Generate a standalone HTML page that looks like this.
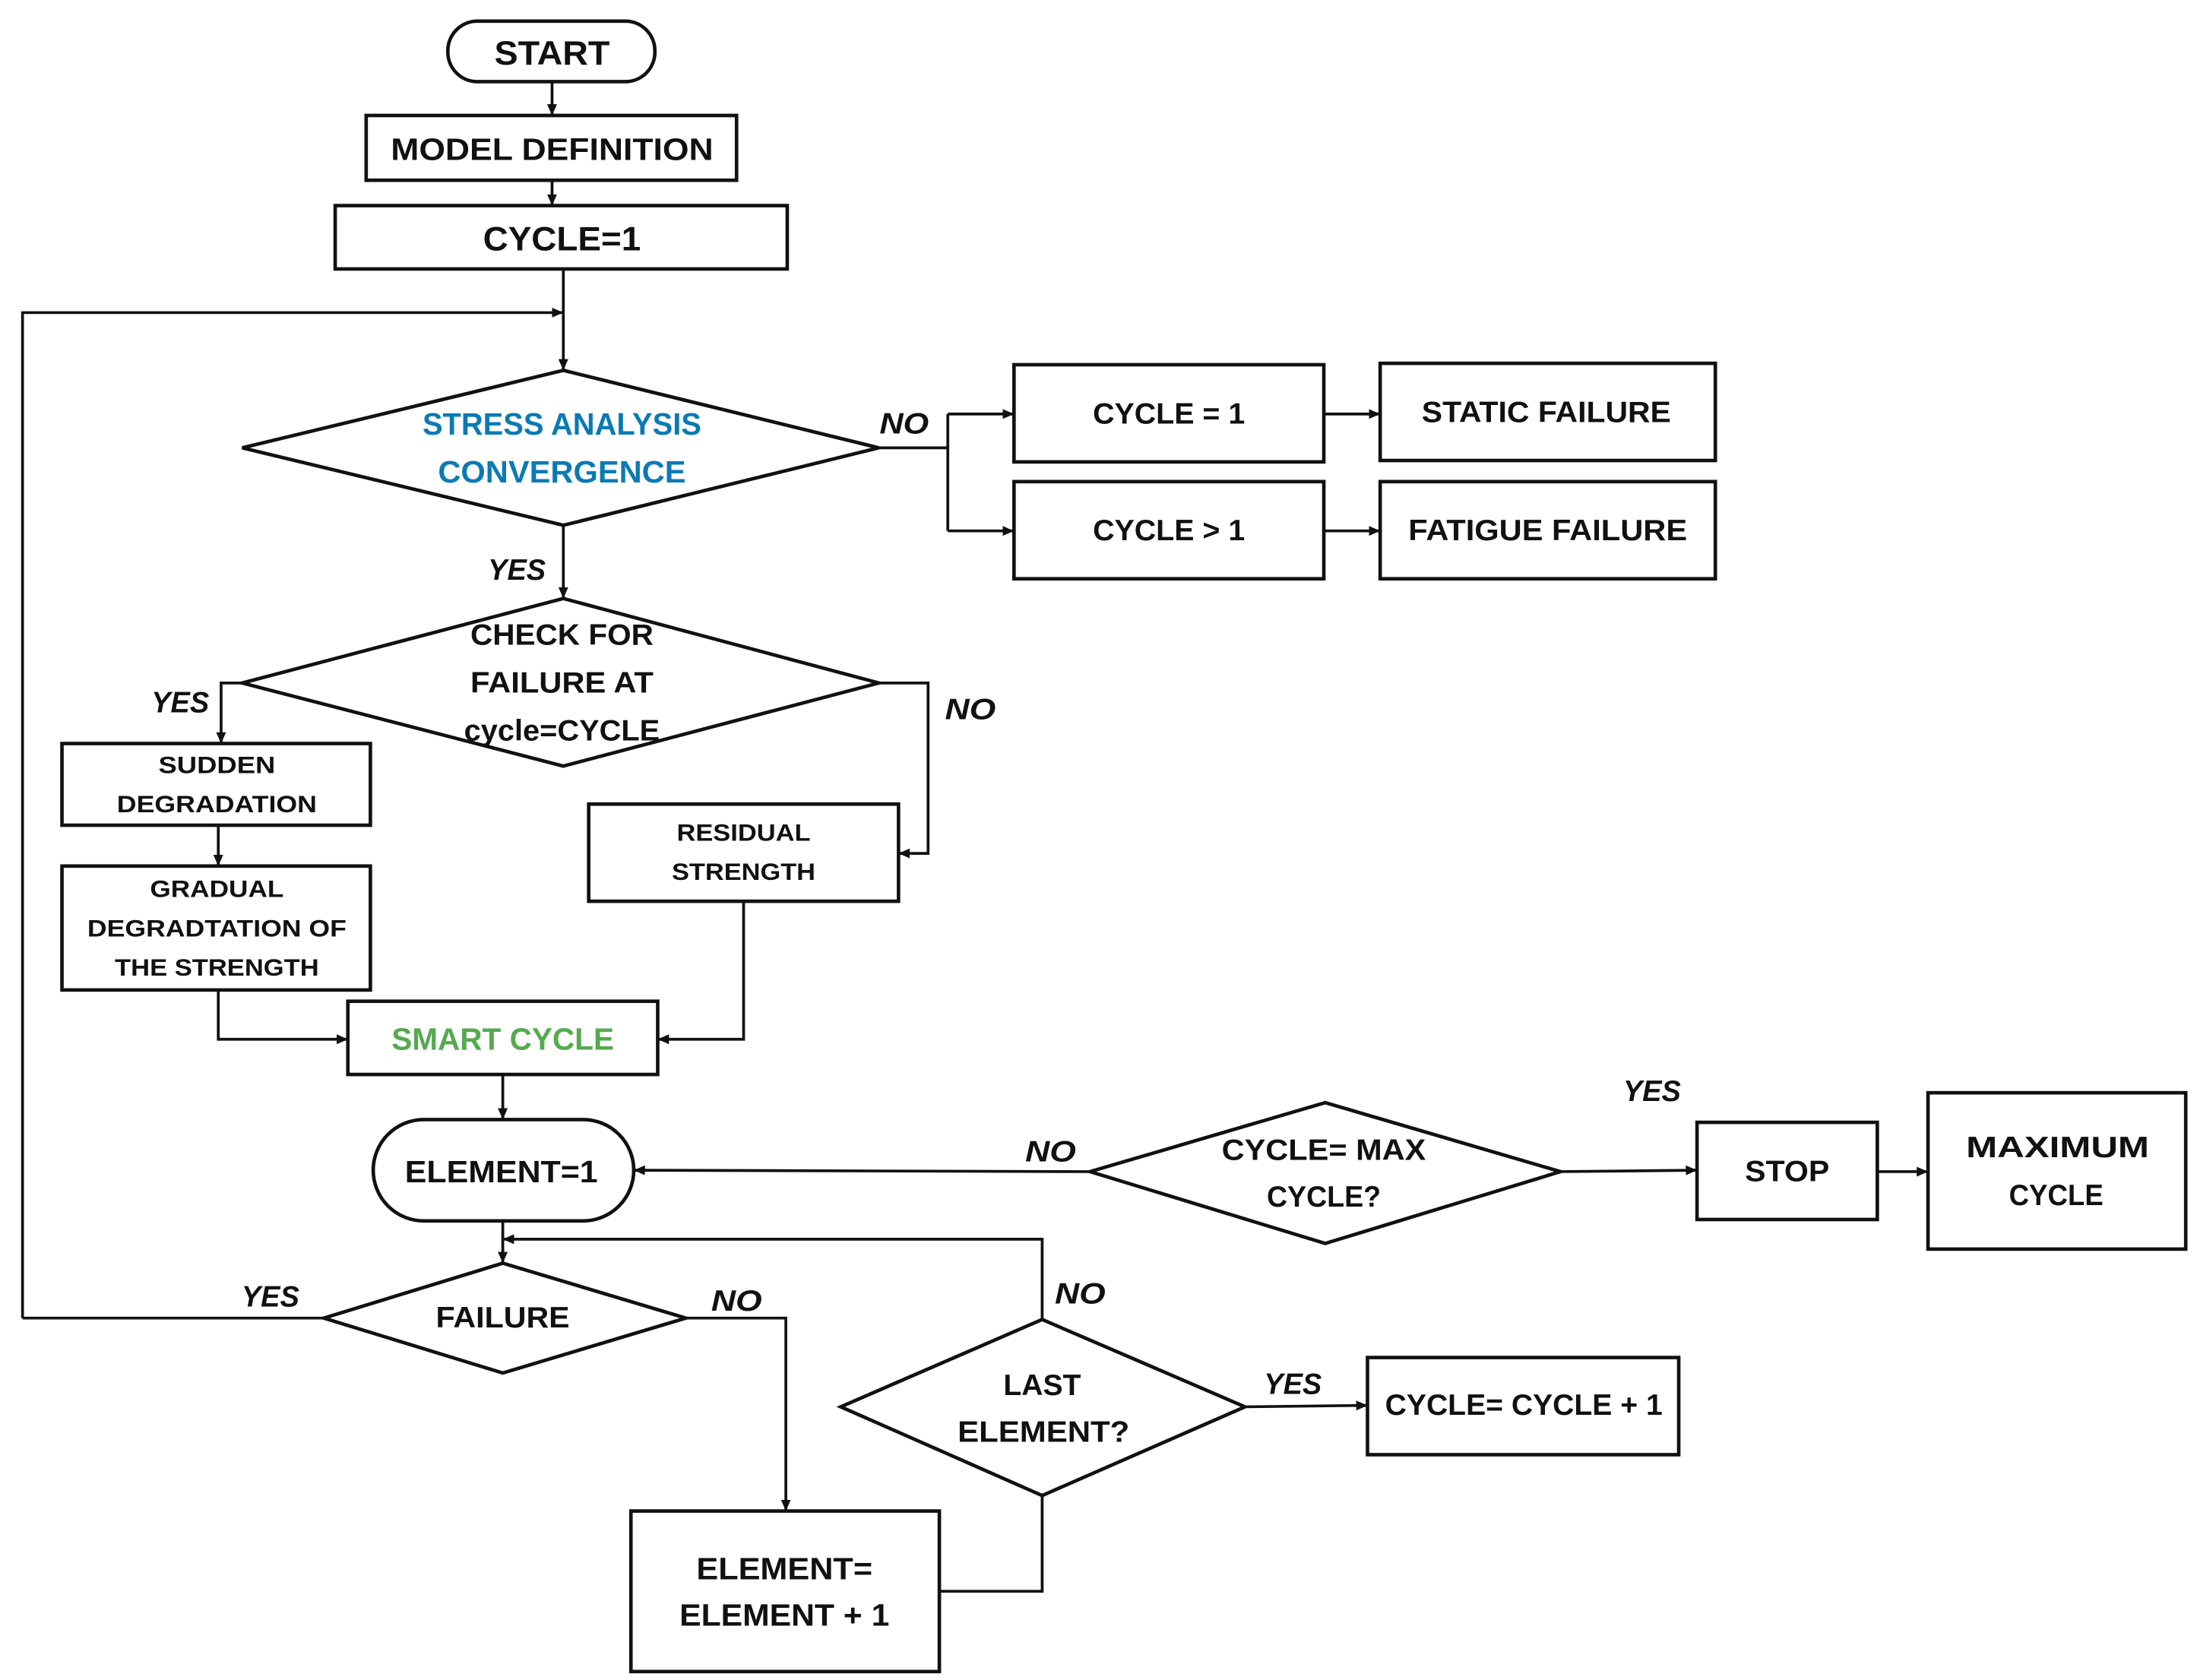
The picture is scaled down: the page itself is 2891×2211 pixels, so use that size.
<!DOCTYPE html>
<html><head><meta charset="utf-8"><style>
html,body{margin:0;padding:0;background:#fff;}
svg{display:block;}
text{font-family:"Liberation Sans",sans-serif;font-weight:bold;text-anchor:middle;dominant-baseline:central;fill:#111;}
.i{font-style:italic;}
</style></head><body>
<svg width="2891" height="2211" viewBox="0 0 1560 1193" preserveAspectRatio="none" xmlns="http://www.w3.org/2000/svg">
<defs><marker id="a" markerWidth="8" markerHeight="8" refX="7" refY="4" orient="auto" markerUnits="userSpaceOnUse"><path d="M0,0.5 L8,4 L0,7.5 z" fill="#111"/></marker></defs>
<g fill="none" stroke="#111" stroke-width="2.5">
<rect x="318" y="15" width="147" height="43" rx="21"/>
<rect x="260" y="82" width="263" height="46"/>
<rect x="238" y="146" width="321" height="45"/>
<polygon points="172,318 400,263 624,318 400,373"/>
<rect x="720" y="259" width="220" height="69"/>
<rect x="720" y="342" width="220" height="69"/>
<rect x="980" y="258" width="238" height="69"/>
<rect x="980" y="342" width="238" height="69"/>
<polygon points="172,485 400,425 624,485 400,544"/>
<rect x="44" y="528" width="219" height="58"/>
<rect x="44" y="615" width="219" height="88"/>
<rect x="418" y="571" width="220" height="69"/>
<rect x="247" y="711" width="220" height="52"/>
<rect x="265" y="795" width="185" height="72" rx="36"/>
<polygon points="230,936 357,897 487,936 357,975"/>
<rect x="448" y="1073" width="219" height="114"/>
<polygon points="597,999 740,937 884,999 740,1062"/>
<rect x="971" y="964" width="221" height="69"/>
<polygon points="774,832 941,783 1108,832 941,883"/>
<rect x="1205" y="797" width="128" height="69"/>
<rect x="1369" y="776" width="183" height="111"/>
</g>
<g fill="none" stroke="#111" stroke-width="2">
<path d="M392,58 V81" marker-end="url(#a)"/>
<path d="M392,128 V145" marker-end="url(#a)"/>
<path d="M400,191 V262" marker-end="url(#a)"/>
<path d="M16,936 V222 H399" marker-end="url(#a)"/>
<path d="M230,936 H16"/>
<path d="M624,318 H673 M673,294 V377"/>
<path d="M673,294 H719" marker-end="url(#a)"/>
<path d="M673,377 H719" marker-end="url(#a)"/>
<path d="M940,294 H979" marker-end="url(#a)"/>
<path d="M940,377 H979" marker-end="url(#a)"/>
<path d="M400,373 V424" marker-end="url(#a)"/>
<path d="M172,485 H157 V527" marker-end="url(#a)"/>
<path d="M624,485 H659 V606 H639" marker-end="url(#a)"/>
<path d="M155,586 V614" marker-end="url(#a)"/>
<path d="M155,703 V738 H246" marker-end="url(#a)"/>
<path d="M528,640 V738 H468" marker-end="url(#a)"/>
<path d="M357,763 V794" marker-end="url(#a)"/>
<path d="M357,867 V896" marker-end="url(#a)"/>
<path d="M487,936 H558 V1072" marker-end="url(#a)"/>
<path d="M667,1130 H740 V1062"/>
<path d="M740,937 V880 H358" marker-end="url(#a)"/>
<path d="M884,999 L970,998" marker-end="url(#a)"/>
<path d="M774,832 L451,831" marker-end="url(#a)"/>
<path d="M1108,832 L1204,831" marker-end="url(#a)"/>
<path d="M1333,832 H1368" marker-end="url(#a)"/>
</g>
<text x="392" y="38" font-size="24" textLength="82" lengthAdjust="spacingAndGlyphs">START</text>
<text x="392" y="106" font-size="22" textLength="229" lengthAdjust="spacingAndGlyphs">MODEL DEFINITION</text>
<text x="399" y="170" font-size="24" textLength="112" lengthAdjust="spacingAndGlyphs">CYCLE=1</text>
<text x="399" y="301" font-size="22" textLength="198" lengthAdjust="spacingAndGlyphs" style="fill:#0a7ab5">STRESS ANALYSIS</text>
<text x="399" y="335" font-size="22" textLength="176" lengthAdjust="spacingAndGlyphs" style="fill:#0a7ab5">CONVERGENCE</text>
<text class="i" x="642" y="301" font-size="21" textLength="35" lengthAdjust="spacingAndGlyphs">NO</text>
<text x="830" y="294" font-size="21" textLength="108" lengthAdjust="spacingAndGlyphs">CYCLE = 1</text>
<text x="830" y="377" font-size="21" textLength="108" lengthAdjust="spacingAndGlyphs">CYCLE &gt; 1</text>
<text x="1098" y="293" font-size="21" textLength="177" lengthAdjust="spacingAndGlyphs">STATIC FAILURE</text>
<text x="1099" y="377" font-size="21" textLength="198" lengthAdjust="spacingAndGlyphs">FATIGUE FAILURE</text>
<text class="i" x="367" y="405" font-size="21" textLength="41" lengthAdjust="spacingAndGlyphs">YES</text>
<text x="399" y="451" font-size="21" textLength="130" lengthAdjust="spacingAndGlyphs">CHECK FOR</text>
<text x="399" y="485" font-size="21" textLength="130" lengthAdjust="spacingAndGlyphs">FAILURE AT</text>
<text x="399" y="519" font-size="21" textLength="139" lengthAdjust="spacingAndGlyphs">cycle=CYCLE</text>
<text class="i" x="128" y="499" font-size="21" textLength="41" lengthAdjust="spacingAndGlyphs">YES</text>
<text class="i" x="689" y="504" font-size="21" textLength="36" lengthAdjust="spacingAndGlyphs">NO</text>
<text x="154" y="543" font-size="17" textLength="83" lengthAdjust="spacingAndGlyphs">SUDDEN</text>
<text x="154" y="571" font-size="17" textLength="142" lengthAdjust="spacingAndGlyphs">DEGRADATION</text>
<text x="154" y="631" font-size="17" textLength="95" lengthAdjust="spacingAndGlyphs">GRADUAL</text>
<text x="154" y="659" font-size="17" textLength="184" lengthAdjust="spacingAndGlyphs">DEGRADTATION OF</text>
<text x="154" y="687" font-size="17" textLength="145" lengthAdjust="spacingAndGlyphs">THE STRENGTH</text>
<text x="528" y="591" font-size="17" textLength="95" lengthAdjust="spacingAndGlyphs">RESIDUAL</text>
<text x="528" y="619" font-size="17" textLength="102" lengthAdjust="spacingAndGlyphs">STRENGTH</text>
<text x="357" y="738" font-size="22" textLength="158" lengthAdjust="spacingAndGlyphs" style="fill:#55aa4f">SMART CYCLE</text>
<text x="356" y="832" font-size="22" textLength="137" lengthAdjust="spacingAndGlyphs">ELEMENT=1</text>
<text x="357" y="936" font-size="21" textLength="95" lengthAdjust="spacingAndGlyphs">FAILURE</text>
<text class="i" x="192" y="921" font-size="21" textLength="41" lengthAdjust="spacingAndGlyphs">YES</text>
<text class="i" x="523" y="924" font-size="21" textLength="36" lengthAdjust="spacingAndGlyphs">NO</text>
<text x="557" y="1114" font-size="22" textLength="125" lengthAdjust="spacingAndGlyphs">ELEMENT=</text>
<text x="557" y="1147" font-size="22" textLength="149" lengthAdjust="spacingAndGlyphs">ELEMENT + 1</text>
<text x="740" y="984" font-size="21" textLength="55" lengthAdjust="spacingAndGlyphs">LAST</text>
<text x="741" y="1017" font-size="21" textLength="122" lengthAdjust="spacingAndGlyphs">ELEMENT?</text>
<text class="i" x="767" y="919" font-size="21" textLength="36" lengthAdjust="spacingAndGlyphs">NO</text>
<text class="i" x="918" y="983" font-size="21" textLength="41" lengthAdjust="spacingAndGlyphs">YES</text>
<text x="1082" y="998" font-size="21" textLength="197" lengthAdjust="spacingAndGlyphs">CYCLE= CYCLE + 1</text>
<text x="940" y="817" font-size="21" textLength="145" lengthAdjust="spacingAndGlyphs">CYCLE= MAX</text>
<text x="940" y="850" font-size="21" textLength="81" lengthAdjust="spacingAndGlyphs">CYCLE?</text>
<text class="i" x="746" y="818" font-size="21" textLength="36" lengthAdjust="spacingAndGlyphs">NO</text>
<text class="i" x="1173" y="775" font-size="21" textLength="41" lengthAdjust="spacingAndGlyphs">YES</text>
<text x="1269" y="832" font-size="21" textLength="60" lengthAdjust="spacingAndGlyphs">STOP</text>
<text x="1461" y="815" font-size="21" textLength="130" lengthAdjust="spacingAndGlyphs">MAXIMUM</text>
<text x="1460" y="849" font-size="21" textLength="67" lengthAdjust="spacingAndGlyphs">CYCLE</text>
</svg>
</body></html>
